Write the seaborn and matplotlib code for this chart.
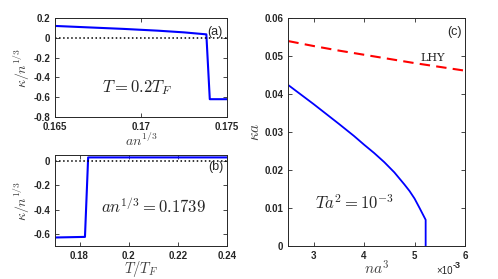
import numpy as np
import pandas as pd
import matplotlib
matplotlib.use("Agg")
import matplotlib.pyplot as plt
import seaborn as sns

# Panel (a): kappa/n^{1/3} vs a n^{1/3}, T = 0.2 T_F
a_x = [0.165, 0.167, 0.169, 0.171, 0.1725, 0.1738, 0.1740, 0.175]
a_y = [0.12, 0.105, 0.09, 0.072, 0.055, 0.035, -0.62, -0.62]

# Panel (b): kappa/n^{1/3} vs T/T_F, a n^{1/3} = 0.1739
b_x = [0.17, 0.1822, 0.1835, 0.20, 0.22, 0.24]
b_y = [-0.63, -0.625, 0.03, 0.03, 0.03, 0.03]

# Panel (c): kappa a vs n a^3 (x in units of 1e-3)
c_x = [2.5, 3.0, 3.5, 3.8, 4.0, 4.2, 4.4, 4.6, 4.8, 4.9, 5.0, 5.1, 5.22, 5.22]
c_y = [0.0424, 0.0374, 0.0322, 0.0290, 0.0267, 0.0245, 0.0221, 0.0194, 0.0162,
       0.0145, 0.0125, 0.0100, 0.0069, 0.0]
lhy_x = [2.5, 3.0, 3.5, 4.0, 4.5, 5.0, 5.5, 6.0]
lhy_y = [0.0540, 0.0527, 0.0515, 0.0504, 0.0493, 0.0482, 0.0472, 0.0462]

sns.set_style("ticks")
plt.rcParams['font.family'] = ['Liberation Sans', 'DejaVu Sans']
plt.rcParams['mathtext.fontset'] = 'cm'
plt.rcParams['xtick.direction'] = 'in'
plt.rcParams['ytick.direction'] = 'in'

fig = plt.figure(figsize=(4.98, 2.79), dpi=100)
ax_a = fig.add_axes([0.1104, 0.5806, 0.3454, 0.3548])
ax_b = fig.add_axes([0.1104, 0.1183, 0.3454, 0.3262])
ax_c = fig.add_axes([0.579, 0.1183, 0.3548, 0.816])

blue = (0, 0, 1)
label_col = '#404040'
tick_col = '#262626'

def style(ax, xt, xl, yt, yl):
    ax.set_xticks(xt)
    ax.set_xticklabels(xl, fontweight='bold', fontsize=7)
    ax.set_yticks(yt)
    ax.set_yticklabels(yl, fontweight='bold', fontsize=7)
    ax.tick_params(axis='both', which='both', top=True, right=True,
                   length=3, width=0.6, colors=tick_col, pad=3.5)
    for s in ax.spines.values():
        s.set_linewidth(0.7)
        s.set_color(tick_col)

# (a)
sns.lineplot(x=a_x, y=a_y, ax=ax_a, color=blue, lw=1.5, sort=False, estimator=None)
ax_a.axhline(0, color='black', ls=':', lw=1.1)
ax_a.set_xlim(0.165, 0.175)
ax_a.set_ylim(-0.8, 0.2)
style(ax_a, [0.165, 0.17, 0.175], ['0.165', '0.17', '0.175'],
      [-0.8, -0.6, -0.4, -0.2, 0, 0.2], ['-0.8', '-0.6', '-0.4', '-0.2', '0', '0.2'])
ax_a.set_xlabel(r'$an^{1/3}$', fontsize=10, color=label_col, labelpad=0)
ax_a.set_ylabel(r'$\kappa/n^{1/3}$', fontsize=10, color=label_col, labelpad=1)
ax_a.text(0.1698, -0.507, r'$T=0.2T_F$', fontsize=12, ha='center', va='center')
ax_a.text(0.1743, 0.0, '(a)', fontsize=9, ha='center', va='bottom')

# (b)
sns.lineplot(x=b_x, y=b_y, ax=ax_b, color=blue, lw=1.5, sort=False, estimator=None)
ax_b.axhline(0, color='black', ls=':', lw=1.1)
ax_b.set_xlim(0.17, 0.24)
ax_b.set_ylim(-0.7, 0.05)
style(ax_b, [0.18, 0.2, 0.22, 0.24], ['0.18', '0.2', '0.22', '0.24'],
      [-0.6, -0.4, -0.2, 0], ['-0.6', '-0.4', '-0.2', '0'])
ax_b.set_xlabel(r'$T/T_F$', fontsize=10.5, color=label_col, labelpad=-1)
ax_b.set_ylabel(r'$\kappa/n^{1/3}$', fontsize=10, color=label_col, labelpad=1)
ax_b.text(0.2103, -0.376, r'$an^{1/3}=0.1739$', fontsize=12, ha='center', va='center')
ax_b.text(0.2355, -0.045, '(b)', fontsize=9, ha='center', va='center')

# (c)
sns.lineplot(x=c_x, y=c_y, ax=ax_c, color=blue, lw=1.3, sort=False, estimator=None)
sns.lineplot(x=lhy_x, y=lhy_y, ax=ax_c, color=(1, 0, 0), lw=1.5, sort=False,
             estimator=None, dashes=False, linestyle=(0, (5, 3)))
ax_c.set_xlim(2.5, 6)
ax_c.set_ylim(0, 0.06)
style(ax_c, [3, 4, 5, 6], ['3', '4', '5', '6'],
      [0, 0.01, 0.02, 0.03, 0.04, 0.05, 0.06],
      ['0', '0.01', '0.02', '0.03', '0.04', '0.05', '0.06'])
ax_c.set_xlabel(r'$na^3$', fontsize=11, color=label_col, labelpad=-1)
ax_c.set_ylabel(r'$\kappa a$', fontsize=11, color=label_col, labelpad=2)
ax_c.text(3.82, 0.0114, r'$Ta^2=10^{-3}$', fontsize=12, ha='center', va='center')
ax_c.text(5.35, 0.0495, 'LHY', fontsize=8, family='DejaVu Serif', ha='center', va='center')
ax_c.text(5.8, 0.0565, '(c)', fontsize=9, ha='center', va='center')
ax_c.text(453 / 498, 1 - 271 / 279, '×10', transform=fig.transFigure, fontsize=7,
          ha='right', va='center', color=tick_col)
ax_c.text(453 / 498, 1 - 265 / 279, '-3', transform=fig.transFigure, fontsize=6.5,
          ha='left', va='center', color=tick_col, fontweight='bold')

fig.savefig('out.png', dpi=100)
